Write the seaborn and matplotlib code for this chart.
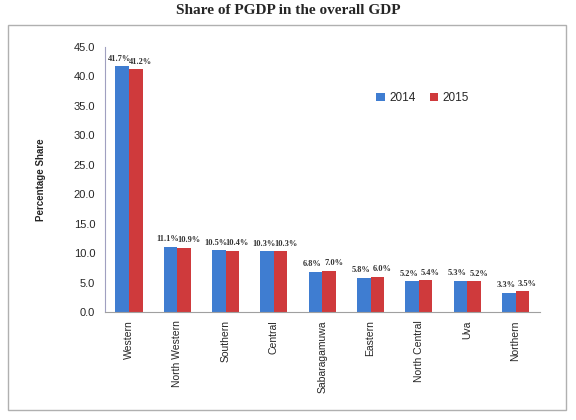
import pandas as pd
import numpy as np
import matplotlib
matplotlib.use("Agg")
import matplotlib.pyplot as plt
import seaborn as sns
from matplotlib.patches import Rectangle

# --- données ---
provinces = ['Western', 'North Western', 'Southern', 'Central', 'Sabaragamuwa',
             'Eastern', 'North Central', 'Uva', 'Northern']
share_2014 = [41.7, 11.1, 10.5, 10.3, 6.8, 5.8, 5.2, 5.3, 3.3]
share_2015 = [41.2, 10.9, 10.4, 10.3, 7.0, 6.0, 5.4, 5.2, 3.5]
years = ['2014', '2015']

df = pd.DataFrame({
    'province': provinces * 2,
    'share': share_2014 + share_2015,
    'year': [years[0]] * len(provinces) + [years[1]] * len(provinces),
})

sns.set_style("white")
plt.rcParams['font.family'] = ['Liberation Sans', 'DejaVu Sans']

fig = plt.figure(figsize=(5.76, 4.2), dpi=100)
ax = fig.add_axes([0.182, 0.257, 0.755, 0.631])

# cadre extérieur du graphique
fig.patches.append(Rectangle((0.014, 0.025), 0.968, 0.915, transform=fig.transFigure,
                             fill=False, edgecolor='#b0b0b0', lw=1.0))

sns.barplot(data=df, x='province', y='share', hue='year',
            palette=['#3f7dd1', '#cf3a3c'], width=0.56, gap=0, ax=ax,
            saturation=1, edgecolor='none')

# étiquettes de valeurs
for i, cont in enumerate(ax.containers):
    for bar in cont:
        h = bar.get_height()
        xc = bar.get_x() + bar.get_width() / 2
        dx = -0.06 if i == 0 else 0.1
        ax.text(xc + dx, h + 0.6, f"{h:.1f}%", ha='center', va='bottom',
                fontsize=6, family='Liberation Serif', fontweight='bold', color='#333333')

ax.set_ylim(0, 45)
ax.set_yticks(np.arange(0, 45.1, 5))
ax.set_yticklabels([f"{v:.1f}" for v in np.arange(0, 45.1, 5)], fontsize=8)
ax.set_xlabel('')
ax.set_ylabel('Percentage Share', fontsize=7, fontweight='bold', labelpad=20)
ax.set_xticks(range(len(provinces)))
ax.set_xticklabels(provinces, rotation=90, fontsize=7.5)
ax.tick_params(axis='y', length=3, color='#999999', pad=4)
ax.tick_params(axis='x', length=0, pad=6)
for s in ['top', 'right']:
    ax.spines[s].set_visible(False)
ax.spines['left'].set_color('#a0a0c0')
ax.spines['bottom'].set_color('#a0a0a0')
ax.set_xlim(-0.5, len(provinces) - 0.5)

leg = ax.legend(loc='upper left', bbox_to_anchor=(0.6, 0.87), ncol=2, frameon=False,
                fontsize=8.5, handlelength=0.7, handleheight=0.7, columnspacing=1.2,
                handletextpad=0.4)

fig.suptitle('Share of PGDP in the overall GDP', y=0.99, fontsize=11,
             family='Liberation Serif', fontweight='bold')

fig.savefig('out.png', dpi=100, facecolor='white')
